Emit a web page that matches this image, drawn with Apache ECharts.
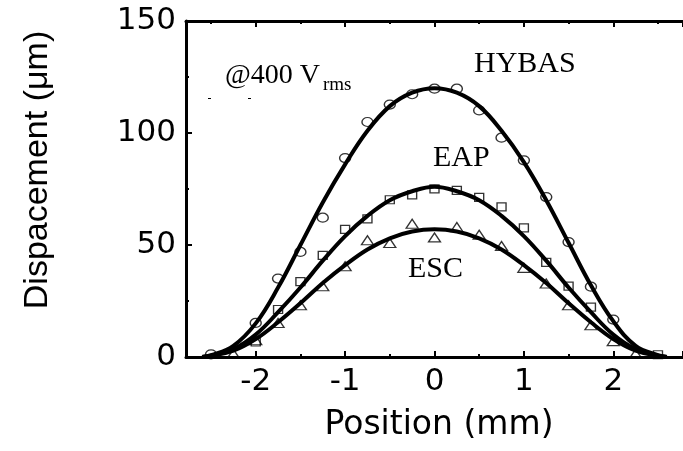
<!DOCTYPE html>
<html>
<head>
<meta charset="utf-8">
<script src="https://cdn.jsdelivr.net/npm/echarts@6/dist/echarts.min.js"></script>
<style>html,body{margin:0;padding:0;background:#fff}#c{width:683px;height:451px}</style>
</head>
<body>
<div id="c"></div>
<script>
// Measured points
const hybasX = [-2.5, -2.0, -1.75, -1.5, -1.25, -1.0, -0.75, -0.5, -0.25, 0, 0.25, 0.5, 0.75, 1.0, 1.25, 1.5, 1.75, 2.0];
const hybasY = [1.2, 15.2, 35.0, 46.9, 62.2, 88.8, 104.9, 112.7, 117.3, 119.8, 119.8, 110.1, 97.9, 87.8, 71.4, 51.3, 31.4, 16.7];
const eapX = [-2.0, -1.75, -1.5, -1.25, -1.0, -0.75, -0.5, -0.25, 0, 0.25, 0.5, 0.75, 1.0, 1.25, 1.5, 1.75, 2.5];
const eapY = [6.7, 21.2, 33.6, 45.4, 57.0, 61.7, 70.2, 72.4, 75.1, 74.4, 71.3, 67.0, 57.6, 42.2, 31.6, 22.3, 1.0];
const escX = [-2.25, -2.0, -1.75, -1.5, -1.25, -1.0, -0.75, -0.5, -0.25, 0, 0.25, 0.5, 0.75, 1.0, 1.25, 1.5, 1.75, 2.0, 2.25];
const escY = [1.5, 7.5, 15.2, 23.1, 31.6, 40.5, 52.1, 50.9, 59.5, 53.4, 58.0, 54.6, 49.6, 39.8, 32.8, 23.1, 14.2, 7.1, 1.5];

// Fitted curves
const fitX = [-2.6, -2.5, -2.25, -2.0, -1.75, -1.5, -1.25, -1.0, -0.75, -0.5, -0.25, 0, 0.25, 0.5, 0.75, 1.0, 1.25, 1.5, 1.75, 2.0, 2.25, 2.5, 2.6];
const hybasFit = [0, 0.8, 5, 15, 31, 50, 69, 86, 101, 112, 118, 120, 118, 112, 101, 87, 70, 51, 32, 16, 5, 0.8, 0];
const eapFit   = [0, 0.6, 3.5, 10, 20, 31, 43, 54, 63, 70, 74, 76, 74, 70, 63, 54, 43, 31, 20, 10, 3.5, 0.6, 0];
const escFit   = [0, 0.5, 2.8, 8, 15.5, 24, 33, 41, 48, 53, 56, 57, 56, 53, 48, 41, 33, 24, 15.5, 8, 2.8, 0.5, 0];

const xTicks = [-2, -1, 0, 1, 2];
const yTicks = [0, 50, 100, 150];

const labels = { hybas: 'HYBAS', eap: 'EAP', esc: 'ESC', cond: '@400 V', condSub: 'rms' };
const xName = 'Position (mm)';
const yName = 'Dispacement (\u03bcm)';

const pairs = (xs, ys) => xs.map((x, i) => [x, ys[i]]);

const chart = echarts.init(document.getElementById('c'), null, { renderer: 'canvas' });

const axisLine = { show: true, onZero: false, lineStyle: { color: '#000', width: 3 } };
const sansTick = { fontFamily: 'DejaVu Sans', fontSize: 31, color: '#000' };

const markerStyle = { color: 'rgba(0,0,0,0)', borderColor: '#000', borderWidth: 1.3 };
const lineStyle = { color: '#000', width: 4 };

chart.setOption({
  animation: false,
  backgroundColor: '#fff',
  grid: { left: 186, top: 21, right: -6, bottom: 94 },
  xAxis: [
    {
      type: 'value', min: -2.78, max: 2.78, position: 'bottom',
      axisLine,
      axisTick: { show: true, inside: true, length: 6, lineStyle: { color: '#000', width: 2 } },
      minorTick: { show: true, splitNumber: 2, length: 3, lineStyle: { color: '#000', width: 2 } },
      axisLabel: {
        ...sansTick, margin: 9, showMinLabel: false, showMaxLabel: false,
        formatter: v => (xTicks.indexOf(v) >= 0 ? String(v) : '')
      },
      splitLine: { show: false }
    },
    {
      type: 'value', min: -2.78, max: 2.78, position: 'top',
      axisLine,
      axisTick: { show: true, inside: true, length: 6, lineStyle: { color: '#000', width: 2 } },
      minorTick: { show: true, splitNumber: 2, length: 3, lineStyle: { color: '#000', width: 2 } },
      axisLabel: { show: false },
      splitLine: { show: false }
    }
  ],
  yAxis: {
    type: 'value', min: 0, max: 150, interval: 50,
    axisLine,
    axisTick: { show: true, inside: true, length: 6, lineStyle: { color: '#000', width: 2 } },
    minorTick: { show: true, splitNumber: 2, length: 3, lineStyle: { color: '#000', width: 2 } },
    axisLabel: { ...sansTick, margin: 10, formatter: v => (yTicks.indexOf(v) >= 0 ? String(v) : '') },
    splitLine: { show: false }
  },
  series: [
    { name: labels.hybas + ' fit', type: 'line', data: pairs(fitX, hybasFit), smooth: 0.4, showSymbol: false, lineStyle, z: 3 },
    { name: labels.eap + ' fit', type: 'line', data: pairs(fitX, eapFit), smooth: 0.4, showSymbol: false, lineStyle, z: 3 },
    { name: labels.esc + ' fit', type: 'line', data: pairs(fitX, escFit), smooth: 0.4, showSymbol: false, lineStyle, z: 3 },
    { name: labels.hybas, type: 'scatter', data: pairs(hybasX, hybasY), symbol: 'circle', symbolSize: [11, 9], itemStyle: markerStyle, z: 4 },
    { name: labels.eap, type: 'scatter', data: pairs(eapX, eapY), symbol: 'rect', symbolSize: [9, 8], itemStyle: markerStyle, z: 4 },
    { name: labels.esc, type: 'scatter', data: pairs(escX, escY), symbol: 'triangle', symbolSize: [12, 9], itemStyle: markerStyle, z: 4 }
  ],
  graphic: [
    { type: 'text', left: 225, top: 62, style: { text: labels.cond, font: '28px "Liberation Serif"', fill: '#000' } },
    { type: 'text', left: 323, top: 76, style: { text: labels.condSub, font: '19px "Liberation Serif"', fill: '#000' } },
    { type: 'rect', shape: { x: 208, y: 98, width: 3, height: 1 }, style: { fill: '#000' } },
    { type: 'rect', shape: { x: 248, y: 98, width: 3, height: 1 }, style: { fill: '#000' } },
    { type: 'text', left: 474, top: 49, style: { text: labels.hybas, font: '30px "Liberation Serif"', fill: '#000' } },
    { type: 'text', left: 433, top: 143, style: { text: labels.eap, font: '30px "Liberation Serif"', fill: '#000' } },
    { type: 'text', left: 408, top: 254, style: { text: labels.esc, font: '30px "Liberation Serif"', fill: '#000' } },
    { type: 'text', x: 439, y: 425, style: { text: xName, font: '33px "DejaVu Sans"', fill: '#000', align: 'center', verticalAlign: 'middle' } },
    { type: 'text', x: 38, y: 170, rotation: Math.PI / 2, style: { text: yName, font: '34px "Liberation Sans"', fill: '#000', align: 'center', verticalAlign: 'middle' } }
  ]
});
</script>
</body>
</html>
